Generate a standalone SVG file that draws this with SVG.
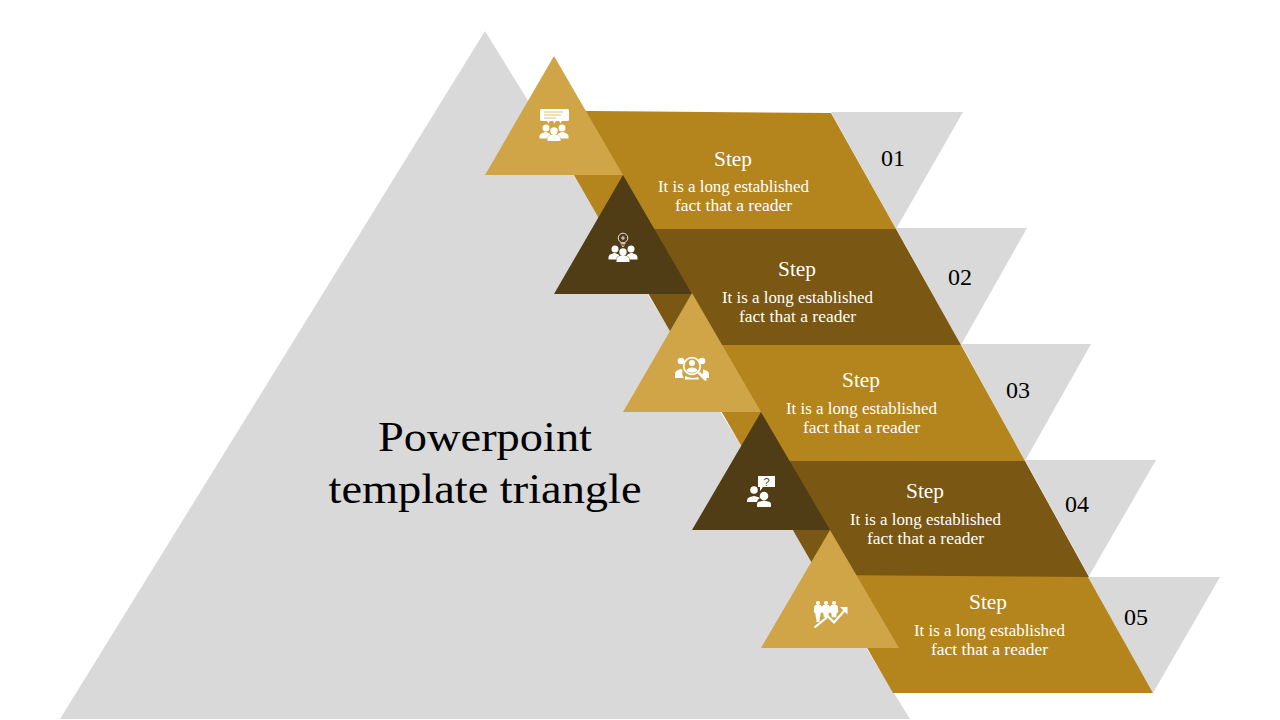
<svg xmlns="http://www.w3.org/2000/svg" xmlns:xlink="http://www.w3.org/1999/xlink" width="1280" height="720" viewBox="0 0 1280 720">
<style>
.grey{fill:#D9D9D9}
.gold{fill:#B5851D}
.brown{fill:#7A5712}
.light{fill:#CFA548}
.dark{fill:#503C15}
text{font-family:"Liberation Serif","Times New Roman",serif;text-anchor:middle}
.title{font-size:43px;fill:#000}
.step{font-size:20px;fill:#fff}
.body{font-size:16px;fill:#fff}
.num{font-size:24px;fill:#000}
.w{fill:#fff}
.ws{fill:none;stroke:#fff;stroke-linecap:round;stroke-linejoin:round}
</style>
<defs>
<g id="trio">
<circle cx="-8" cy="3" r="3.500" class="w"/><circle cx="8" cy="3" r="3.500" class="w"/><circle cx="0" cy="6" r="3.700" class="w"/>
<path class="w" d="M-14.500 13.500v-2.500q0-2 3-3l3-1.200 3 1.200q1.500.5 2 1.500q-3 1.200-3.500 4z"/>
<path class="w" d="M14.500 13.500v-2.500q0-2-3-3l-3-1.200-3 1.200q-1.500.5-2 1.500q3 1.200 3.500 4z"/>
<path class="w" d="M-6.500 16v-2.500q0-2.500 3-3.500l3.500-1 3.500 1q3 1 3 3.500v2.500z"/>
</g>
<g id="person">
<circle cx="0" cy="0" r="2.100" class="w"/>
<path class="w" d="M-3.800 3.200l1.200-1.200h5.200l1.200 1.200.4 6-1.500 1-.5 4h-4.400l-.5-4-1.500-1z"/>
</g>
</defs>

<g id="background-triangle"><polygon class="grey" points="485,31 60,719 910,719"/></g>

<g id="connectors">
<polygon class="grey" points="831,112 963,112 896,229"/>
<polygon class="grey" points="896,228 1027,228 961,345"/>
<polygon class="grey" points="961,344 1091,344 1025,461"/>
<polygon class="grey" points="1025,460 1156,460 1089,576"/>
<polygon class="grey" points="1088,577 1220,577 1153,693"/>
</g>

<g id="band-1"><polygon class="gold" points="537,110.500 831,113 896,229 605,229"/></g>
<g id="band-2"><polygon class="brown" points="611,229 896,229 961,345 678,345"/></g>
<g id="band-3"><polygon class="gold" points="683,345 961,345 1025,461 750,461"/></g>
<g id="band-4"><polygon class="brown" points="753,461 1025,461 1089,577 820,577"/></g>
<g id="band-5"><polygon class="gold" points="825,575 1088,577 1153,693 893,693"/></g>

<g id="node-1">
<polygon class="light" points="554,56 485,175 623,175"/>
<rect x="540" y="109" width="29" height="12" rx="1.500" class="w"/>
<path d="M544 112h19M544 115h17M544 118h12" stroke="#E9D4A4" stroke-width="1.300" fill="none"/>
<path class="w" d="M547 121h3l-1.500 2.500zM553 121h3l-1.500 2.500zM559 121h3l-1.500 2.500z"/>
<use xlink:href="#trio" href="#trio" x="554" y="125"/>
</g>
<g id="node-2">
<polygon class="dark" points="623,175 554,294 692,294"/>
<circle cx="623" cy="238" r="4.800" fill="none" stroke="#E6E0D2" stroke-width="1"/>
<path d="M623 236v4M621 238h4" stroke="#E6E0D2" stroke-width="1" fill="none"/>
<path d="M620.500 243.500h5M621 245h4M622 246.500h2" stroke="#C9BFA8" stroke-width="1.100" fill="none"/>
<use xlink:href="#trio" href="#trio" x="623" y="246"/>
</g>
<g id="node-3">
<polygon class="light" points="692,293 623,412 761,412"/>
<circle cx="681" cy="361" r="3.300" class="w"/><circle cx="702" cy="361" r="3.300" class="w"/>
<path class="w" d="M675 378v-4q0-3 3-4l3-1 1.500 1q-1 5 1.500 8z"/>
<path class="w" d="M709 378v-4q0-2.500-3-3.500l-3-1q.5 4-1.500 7l1 1.500z"/>
<path class="w" d="M685 379.500v-3.500q7 3.500 13 1l1 2.500z"/>
<circle cx="692" cy="366" r="8.300" fill="none" stroke="#fff" stroke-width="1.800"/>
<circle cx="692" cy="363" r="3" class="w"/>
<path class="w" d="M686.500 370.800q.8-3 5.500-3.300q4.700.3 5.500 3.300q-2.500 2-5.500 2t-5.500-2z"/>
<path class="ws" d="M698.500 372.500l7 7" stroke-width="2.600"/>
</g>
<g id="node-4">
<polygon class="dark" points="761,412 692,530 830,530"/>
<path class="w" d="M758 476h17v11h-12l-3 4v-4h-2z"/>
<text x="766.500" y="486" style="font-family:'Liberation Sans',Arial,sans-serif;font-size:11px;fill:#503C15">?</text>
<circle cx="754" cy="490" r="3.800" class="w"/>
<path class="w" d="M747 502v-2q0-2 3-3l4-1 4 1q1 .3 2 1q-2.500 1-3 4z"/>
<circle cx="764" cy="496" r="4.300" class="w"/>
<path class="w" d="M757 507v-3q0-2 3-2.500l4-1 4 1q3 .5 3 2.500v3z"/>
</g>
<g id="node-5">
<polygon class="light" points="830,530 761,648 899,648"/>
<use xlink:href="#person" href="#person" x="818" y="603"/>
<path class="w" d="M816 617h4l-.6 5h-2.800z"/>
<use xlink:href="#person" href="#person" x="826" y="603"/>
<use xlink:href="#person" href="#person" x="834" y="603"/>
<path d="M814.500 627.500l13.500-11 6 6 11-12.500" fill="none" stroke="#fff" stroke-width="2.200"/>
<path class="w" d="M840 607h7.500v7.500z"/>
</g>

<g id="title">
<text class="title" x="485" y="451" textLength="214" lengthAdjust="spacingAndGlyphs">Powerpoint</text>
<text class="title" x="485" y="503" textLength="313" lengthAdjust="spacingAndGlyphs">template triangle</text>
</g>

<g id="label-1">
<text class="step" x="733" y="166" textLength="38" lengthAdjust="spacingAndGlyphs">Step</text>
<text class="body" x="733.500" y="192" textLength="151" lengthAdjust="spacingAndGlyphs">It is a long established</text>
<text class="body" x="733.500" y="211" textLength="117" lengthAdjust="spacingAndGlyphs">fact that a reader</text>
<text class="num" x="893" y="166">01</text>
</g>
<g id="label-2">
<text class="step" x="797" y="276" textLength="38" lengthAdjust="spacingAndGlyphs">Step</text>
<text class="body" x="797.500" y="303" textLength="151" lengthAdjust="spacingAndGlyphs">It is a long established</text>
<text class="body" x="797.500" y="322" textLength="117" lengthAdjust="spacingAndGlyphs">fact that a reader</text>
<text class="num" x="960" y="285">02</text>
</g>
<g id="label-3">
<text class="step" x="861" y="387" textLength="38" lengthAdjust="spacingAndGlyphs">Step</text>
<text class="body" x="861.500" y="414" textLength="151" lengthAdjust="spacingAndGlyphs">It is a long established</text>
<text class="body" x="861.500" y="433" textLength="117" lengthAdjust="spacingAndGlyphs">fact that a reader</text>
<text class="num" x="1018" y="398">03</text>
</g>
<g id="label-4">
<text class="step" x="925" y="498" textLength="38" lengthAdjust="spacingAndGlyphs">Step</text>
<text class="body" x="925.500" y="525" textLength="151" lengthAdjust="spacingAndGlyphs">It is a long established</text>
<text class="body" x="925.500" y="544" textLength="117" lengthAdjust="spacingAndGlyphs">fact that a reader</text>
<text class="num" x="1077" y="512">04</text>
</g>
<g id="label-5">
<text class="step" x="988" y="609" textLength="38" lengthAdjust="spacingAndGlyphs">Step</text>
<text class="body" x="989.500" y="636" textLength="151" lengthAdjust="spacingAndGlyphs">It is a long established</text>
<text class="body" x="989.500" y="655" textLength="117" lengthAdjust="spacingAndGlyphs">fact that a reader</text>
<text class="num" x="1136" y="625">05</text>
</g>
</svg>
